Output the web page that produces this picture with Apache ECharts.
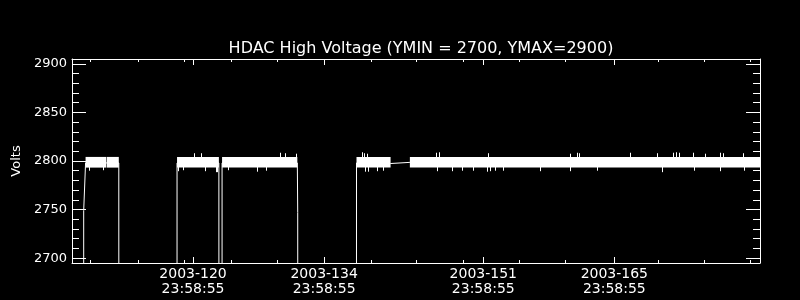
<!DOCTYPE html>
<html><head><meta charset="utf-8">
<script src="https://cdn.jsdelivr.net/npm/echarts@6/dist/echarts.min.js"></script>
<style>html,body{margin:0;padding:0;background:#000}#c{width:800px;height:300px}</style>
</head><body><div id="c"></div>
<script>
// ---- text ----
const titleText = 'HDAC High Voltage (YMIN = 2700, YMAX=2900)';
const yAxisName = 'Volts';

// ---- axes (x in day-of-year 2003) ----
const xMin = 107.07, xMax = 180.56;
const yMin = 2695, yMax = 2905;
const xMajorTicks = [120, 134, 151, 165];
const xTickLabels = ['2003-120\n23:58:55', '2003-134\n23:58:55', '2003-151\n23:58:55', '2003-165\n23:58:55'];
const xMinorTicks = [109.07, 114.12, 119.11, 124.03, 129.02, 138.99, 143.88, 148.86, 154.84, 159.76, 169.69, 174.61, 179.50];
const yMajorTicks = [2700, 2750, 2800, 2850, 2900];
const yMinorTicks = [2710, 2720, 2730, 2740, 2760, 2770, 2780, 2790, 2810, 2820, 2830, 2840, 2860, 2870, 2880, 2890];

// ---- HV trace (on/off transitions), days and volts ----
const traceDays  = [108.28, 108.32, 108.48, 108.52, 112.07, 112.09, 118.27, 118.29, 122.76, 122.78, 123.08, 123.10, 131.14, 131.18, 131.28, 131.31, 137.44, 137.46, 141.10, 143.16, 180.56];
const traceVolts = [0,      2749,   2749,   2798,   2798,   0,      0,      2798,   2798,   0,      0,      2798,   2798,   2747,   2747,   0,      0,      2798,   2797.4, 2798.6, 2798];

// ---- noise band envelope per on-period ----
const bandStart = [108.52, 110.76, 118.29, 123.10, 137.46, 143.16];
const bandEnd   = [110.70, 112.07, 122.76, 131.14, 141.10, 180.56];
const bandLow   = [2793.2, 2793.2, 2793.2, 2793.2, 2793.2, 2793.2];
const bandHigh  = [2804.2, 2804.2, 2804.2, 2804.0, 2804.2, 2804.2];

// ---- individual noise spikes ----
const spikeDay  = [120.07, 120.90, 129.30, 129.80, 131.05, 138.00, 138.30, 138.60, 146.00, 146.30, 151.50, 160.26, 161.00, 161.20, 166.67, 169.52, 171.30, 171.60, 171.90, 173.44, 174.69, 176.30, 176.60, 178.78,
                   108.85, 110.38, 118.40, 118.93, 121.33, 122.48, 122.60, 123.74, 126.78, 127.84, 138.40, 138.65, 139.60, 140.31, 146.08, 147.62, 148.68, 149.92, 151.40, 151.70, 152.24, 153.13, 157.05, 160.30, 163.11, 170.06, 173.50, 176.29, 178.80];
const spikeLow  = [2800, 2800, 2800, 2800, 2800, 2800, 2800, 2800, 2800, 2800, 2800, 2800, 2800, 2800, 2800, 2800, 2800, 2800, 2800, 2800, 2800, 2800, 2800, 2800,
                   2790, 2790.5, 2789.5, 2790.5, 2789.5, 2788.5, 2788.5, 2790.5, 2789, 2790, 2789, 2789, 2789.5, 2790, 2789.5, 2789.5, 2790, 2790, 2789, 2789.5, 2790, 2790, 2789.5, 2789.5, 2790, 2788.5, 2790, 2789.5, 2790];
const spikeHigh = [2808, 2808, 2808.5, 2808, 2807.5, 2809, 2808, 2807.5, 2808.5, 2809, 2808, 2807.5, 2808.5, 2808, 2808.5, 2808, 2808.5, 2809, 2808.5, 2808.5, 2807.5, 2808.5, 2808, 2808,
                   2800, 2800, 2800, 2800, 2800, 2800, 2800, 2800, 2800, 2800, 2800, 2800, 2800, 2800, 2800, 2800, 2800, 2800, 2800, 2800, 2800, 2800, 2800, 2800, 2800, 2800, 2800, 2800, 2800];

const FG = '#ffffff';
const FONT = 'DejaVu Sans';

function xAx(position, ticks, len, showLine, labels) {
  return {
    type: 'value', position: position, min: xMin, max: xMax,
    axisLine: { show: showLine, onZero: false, lineStyle: { color: FG, width: 1 } },
    axisTick: { show: true, inside: true, length: len, customValues: ticks, lineStyle: { color: FG, width: 1 } },
    axisLabel: labels ? {
      show: true, customValues: xMajorTicks, color: FG, fontFamily: FONT, fontSize: 14, lineHeight: 15, margin: 4,
      formatter: v => { const i = xMajorTicks.findIndex(t => Math.abs(t - v) < 1e-6); return i >= 0 ? xTickLabels[i] : ''; }
    } : { show: false },
    splitLine: { show: false }
  };
}
function yAx(position, ticks, len, showLine, labels) {
  const o = {
    type: 'value', position: position, min: yMin, max: yMax,
    axisLine: { show: showLine, onZero: false, lineStyle: { color: FG, width: 1 } },
    axisTick: { show: true, inside: true, length: len, customValues: ticks, lineStyle: { color: FG, width: 1 } },
    axisLabel: labels ? { show: true, customValues: yMajorTicks, color: FG, fontFamily: FONT, fontSize: 13, margin: 5, formatter: v => String(Math.round(v)) } : { show: false },
    splitLine: { show: false }
  };
  if (labels) {
    o.name = yAxisName; o.nameLocation = 'middle'; o.nameRotate = 90; o.nameGap = 46;
    o.nameTextStyle = { color: FG, fontFamily: FONT, fontSize: 13 };
  }
  return o;
}

const traceData = traceDays.map((d, i) => [d, traceVolts[i]]);
const bandData = bandStart.map((s, i) => [s, bandEnd[i], bandLow[i], bandHigh[i]]);
const spikeData = spikeDay.map((d, i) => [d, spikeLow[i], spikeHigh[i]]);

const chart = echarts.init(document.getElementById('c'), null, { renderer: 'canvas' });
chart.setOption({
  backgroundColor: '#000000',
  animation: false,
  title: { text: titleText, left: 416, textAlign: 'center', top: 36,
           textStyle: { color: FG, fontFamily: FONT, fontSize: 16, fontWeight: 'normal' } },
  grid: { left: 72, right: 40, top: 59, bottom: 37, containLabel: false },
  xAxis: [
    xAx('bottom', xMajorTicks, 6, true, true),
    xAx('bottom', xMinorTicks, 3, false, false),
    xAx('top', xMajorTicks, 6, true, false),
    xAx('top', xMinorTicks, 3, false, false)
  ],
  yAxis: [
    yAx('left', yMajorTicks, 14, true, true),
    yAx('left', yMinorTicks, 7, false, false),
    yAx('right', yMajorTicks, 14, true, false),
    yAx('right', yMinorTicks, 7, false, false)
  ],
  series: [
    { type: 'line', xAxisIndex: 0, yAxisIndex: 0, data: traceData, showSymbol: false, symbol: 'none', clip: true,
      lineStyle: { color: FG, width: 1 }, silent: true },
    { type: 'custom', xAxisIndex: 0, yAxisIndex: 0, data: bandData, clip: true, silent: true,
      renderItem: (params, api) => {
        const p0 = api.coord([api.value(0), api.value(3)]);
        const p1 = api.coord([api.value(1), api.value(2)]);
        return { type: 'rect', shape: { x: p0[0], y: p0[1], width: p1[0] - p0[0], height: p1[1] - p0[1] }, style: { fill: FG } };
      } },
    { type: 'custom', xAxisIndex: 0, yAxisIndex: 0, data: spikeData, clip: true, silent: true,
      renderItem: (params, api) => {
        const a = api.coord([api.value(0), api.value(1)]);
        const b = api.coord([api.value(0), api.value(2)]);
        const x = Math.round(a[0]) + 0.5;
        return { type: 'line', shape: { x1: x, y1: a[1], x2: x, y2: b[1] }, style: { stroke: FG, lineWidth: 1 } };
      } }
  ]
});
</script></body></html>
